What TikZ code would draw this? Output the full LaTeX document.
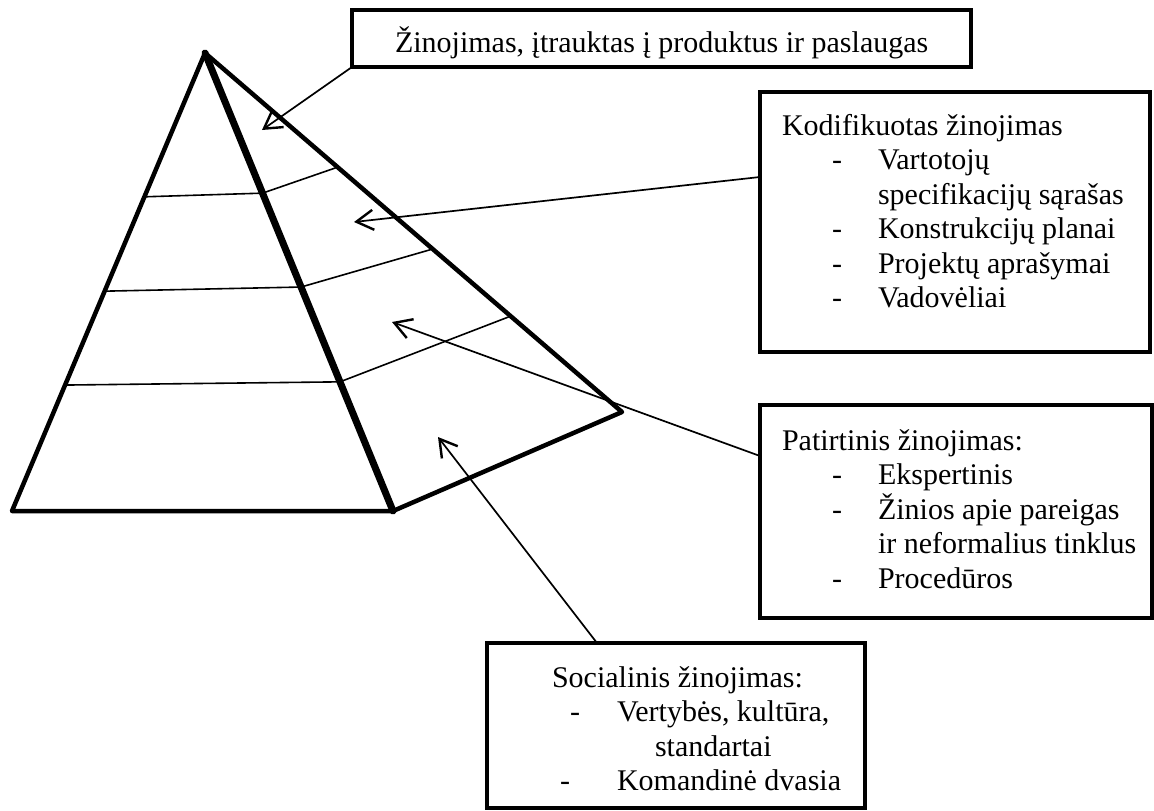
\documentclass[tikz,border=0pt]{standalone}
\usepackage{fontspec}
\setmainfont{Liberation Serif}
\usetikzlibrary{arrows.meta,calc}
\begin{document}
\begin{tikzpicture}[x=1pt,y=-1pt,
  every node/.style={inner sep=0pt, outer sep=0pt},
  txt/.style={anchor=base west, font=\fontsize{30}{34.5}\selectfont},
  frame/.style={draw, line width=4pt, anchor=north west, fill=white},
  edge/.style={line width=4.5pt, line join=round, line cap=round},
  ridge/.style={line width=7pt, line cap=round},
  tier/.style={line width=1.6pt},
  pointer/.style={line width=1.7pt, -{Straight Barb[length=17pt,width=20pt,line width=2.4pt]}}]

\useasboundingbox (0,0) rectangle (1154,811);

% pyramid corners
\coordinate (A) at (205,53);
\coordinate (L) at (12,511);
\coordinate (F) at (393,511);
\coordinate (R) at (622,412);

% tiers across both visible faces
\draw[tier] ($(A)!0.314!(L)$) -- ($(A)!0.306!(F)$) -- ($(A)!0.318!(R)$);
\draw[tier] ($(A)!0.520!(L)$) -- ($(A)!0.511!(F)$) -- ($(A)!0.546!(R)$);
\draw[tier] ($(A)!0.725!(L)$) -- ($(A)!0.718!(F)$) -- ($(A)!0.733!(R)$);

% outline and front ridge
\draw[edge] (A) -- (L) -- (F) -- (R) -- cycle;
\draw[ridge] (A) -- (F);

% boxes
\node[frame, minimum width=619pt, minimum height=57pt]  (top) at (352,10)  {};
\node[frame, minimum width=390pt, minimum height=260pt] (kod) at (760,92)  {};
\node[frame, minimum width=392pt, minimum height=213pt] (pat) at (760,405) {};
\node[frame, minimum width=378pt, minimum height=165pt] (soc) at (487,643) {};

% arrow tips inside the pyramid
\coordinate (tipT) at (262,130);
\coordinate (tipK) at (354,222);
\coordinate (tipP) at (392,322);
\coordinate (tipS) at (438,437);

\draw[pointer] (top.south west) -- (tipT);
\draw[pointer] ($(kod.north west)+(0,85)$) -- (tipK);
\draw[pointer] ($(pat.north west)+(0,51)$) -- (tipP);
\draw[pointer] ($(soc.north west)+(110,0)$) -- (tipS);

% texts
\node[txt] (t0) at (395,52) {Žinojimas, įtrauktas į produktus ir paslaugas};

\node[txt] (k0)  at (782,135)   {Kodifikuotas žinojimas};
\node[txt] (k1d) at (832,169.5) {-};
\node[txt] (k1)  at (878,169.5) {Vartotojų};
\node[txt] (k2)  at (878,204)   {specifikacijų sąrašas};
\node[txt] (k3d) at (832,238.5) {-};
\node[txt] (k3)  at (878,238.5) {Konstrukcijų planai};
\node[txt] (k4d) at (832,273)   {-};
\node[txt] (k4)  at (878,273)   {Projektų aprašymai};
\node[txt] (k5d) at (832,307.5) {-};
\node[txt] (k5)  at (878,307.5) {Vadovėliai};

\node[txt] (p0)  at (782,450)   {Patirtinis žinojimas:};
\node[txt] (p1d) at (832,484.5) {-};
\node[txt] (p1)  at (878,484.5) {Ekspertinis};
\node[txt] (p2d) at (832,519)   {-};
\node[txt] (p2)  at (878,519)   {Žinios apie pareigas};
\node[txt] (p3)  at (878,553.5) {ir neformalius tinklus};
\node[txt] (p4d) at (832,588)   {-};
\node[txt] (p4)  at (878,588)   {Procedūros};

\node[txt] (s0)  at (552,687)   {Socialinis žinojimas:};
\node[txt] (s1d) at (570,721.5) {-};
\node[txt] (s1)  at (617,721.5) {Vertybės, kultūra,};
\node[txt] (s2)  at (655,756)   {standartai};
\node[txt] (s3d) at (560,790.5) {-};
\node[txt] (s3)  at (617,790.5) {Komandinė dvasia};
\end{tikzpicture}
\end{document}
